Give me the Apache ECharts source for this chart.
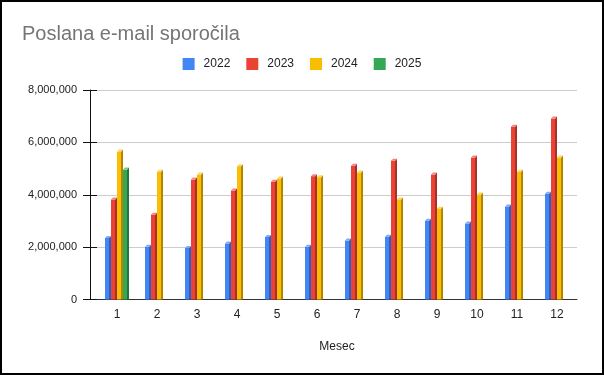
<!DOCTYPE html>
<html>
<head>
<meta charset="utf-8">
<script src="https://cdn.jsdelivr.net/npm/echarts@6/dist/echarts.min.js"></script>
<style>
html,body{margin:0;padding:0;background:#fff;}
#c{width:604px;height:375px;}
</style>
</head>
<body>
<div id="c"></div>
<script>
const categories = ['1','2','3','4','5','6','7','8','9','10','11','12'];
const seriesNames = ['2022','2023','2024','2025'];
const v2022 = [2350000, 2010000, 1970000, 2140000, 2390000, 2010000, 2250000, 2400000, 3010000, 2900000, 3550000, 4040000];
const v2023 = [3820000, 3240000, 4580000, 4160000, 4500000, 4710000, 5110000, 5300000, 4770000, 5420000, 6600000, 6910000];
const v2024 = [5650000, 4880000, 4770000, 5090000, 4620000, 4670000, 4850000, 3820000, 3470000, 4010000, 4880000, 5420000];
const v2025 = [4960000, null, null, null, null, null, null, null, null, null, null, null];
const yTicks = [0, 2000000, 4000000, 6000000, 8000000];

const allValues = [v2022, v2023, v2024, v2025];
const colors = ['#4285F4', '#EA4335', '#FBBC04', '#34A853'];
const sideColors = ['#2C5FBF', '#A8302A', '#B38600', '#23753A'];
const topColors = ['#7FAAF8', '#F2857C', '#FDD45E', '#74C68A'];

function renderItem(params, api) {
  const v = api.value(1);
  if (v === null || v === undefined || isNaN(v)) return;
  const s = params.seriesIndex;
  const c = api.coord([api.value(0), v]);
  const b = api.coord([api.value(0), 0]);
  const x0 = c[0] - 12 + 6 * s;
  const top = c[1];
  const bot = b[1];
  return {
    type: 'group',
    children: [
      {type: 'rect', shape: {x: x0, y: top, width: 4, height: bot - top}, style: {fill: colors[s]}},
      {type: 'polygon', shape: {points: [[x0 + 4, top], [x0 + 6, top - 2], [x0 + 6, bot], [x0 + 4, bot]]}, style: {fill: sideColors[s]}},
      {type: 'polygon', shape: {points: [[x0, top], [x0 + 2, top - 2], [x0 + 6, top - 2], [x0 + 4, top]]}, style: {fill: topColors[s]}}
    ]
  };
}

const chart = echarts.init(document.getElementById('c'));
const font = 'Arial, "Liberation Sans", sans-serif';
const yCommon = {
  type: 'value', min: yTicks[0], max: yTicks[yTicks.length - 1], interval: yTicks[1] - yTicks[0]
};
chart.setOption({
  animation: false,
  backgroundColor: '#fff',
  textStyle: {fontFamily: font},
  title: {
    text: 'Poslana e-mail sporočila', left: 17, top: 19,
    textStyle: {fontFamily: font, fontSize: 20, fontWeight: 'normal', color: '#757575'}
  },
  legend: {
    data: seriesNames, left: 'center', top: 53, itemWidth: 12, itemHeight: 12, itemGap: 16,
    icon: 'rect',
    textStyle: {fontFamily: font, fontSize: 12, color: '#222', padding: [0, 0, 0, 4]}
  },
  grid: {left: 97, right: 27, top: 90, bottom: 75.5, containLabel: false},
  xAxis: {
    type: 'category', data: categories,
    name: 'Mesec', nameLocation: 'middle', nameGap: 41,
    nameTextStyle: {fontFamily: font, fontSize: 12, color: '#222'},
    axisLine: {lineStyle: {color: '#333', width: 1}},
    axisTick: {show: false},
    axisLabel: {fontFamily: font, fontSize: 12, color: '#222', margin: 9}
  },
  yAxis: [
    Object.assign({}, yCommon, {
      offset: 7,
      axisLine: {show: true, lineStyle: {color: '#111'}},
      axisTick: {show: true, length: 7, lineStyle: {color: '#111'}},
      axisLabel: {fontFamily: font, fontSize: 11, color: '#222', margin: 13,
        formatter: v => v.toLocaleString('en-US')},
      splitLine: {show: true, lineStyle: {color: '#ccc'}}
    }),
    Object.assign({}, yCommon, {
      position: 'left', offset: 0,
      axisLine: {show: false},
      axisTick: {show: true, length: 7, lineStyle: {color: '#111'}},
      axisLabel: {show: false},
      splitLine: {show: false}
    })
  ],
  series: seriesNames.map((name, s) => ({
    type: 'custom', name: name,
    itemStyle: {color: colors[s]},
    renderItem: renderItem,
    encode: {x: 0, y: 1},
    data: allValues[s].map((v, i) => [i, v === null ? '-' : v])
  })),
  graphic: [{
    type: 'rect', z: 100, silent: true,
    shape: {x: 1, y: 1, width: 602, height: 373},
    style: {fill: 'none', stroke: '#000', lineWidth: 2}
  }]
});
</script>
</body>
</html>
